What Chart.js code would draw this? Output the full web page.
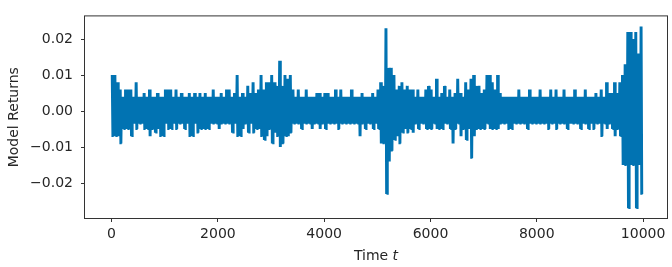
<!DOCTYPE html>
<html>
<head>
<meta charset="utf-8">
<script src="https://cdn.jsdelivr.net/npm/chart.js@4/dist/chart.umd.min.js"></script>
<style>
  html, body { margin: 0; padding: 0; background: #fff; }
</style>
</head>
<body>
<canvas id="returnsChart" width="672" height="267"></canvas>
<script>
// envelope of the return series, read per 50-step bin (values in 1e-3)
const binWidth = 50;
const upper = [
  10, 10, 8, 6, 4, 6, 6, 6, 4, 8,
  4, 4, 5, 4, 6, 4, 4, 5, 4, 4,
  6, 6, 6, 4, 6, 4, 5, 4, 4, 5,
  4, 5, 4, 5, 4, 5, 4, 4, 6, 4,
  4, 5, 4, 6, 6, 4, 5, 10, 4, 5,
  4, 7, 5, 8, 5, 6, 10, 6, 8, 8,
  10, 8, 7, 14, 7, 10, 9, 10, 6, 4,
  6, 4, 4, 6, 4, 4, 4, 5, 5, 4,
  5, 5, 4, 4, 6, 4, 6, 4, 4, 4,
  6, 4, 4, 4, 5, 4, 4, 4, 5, 4,
  6, 8, 7, 23, 12, 12, 10, 6, 7, 8,
  6, 7, 6, 6, 4, 6, 4, 4, 6, 7,
  6, 4, 9, 4, 5, 7, 4, 6, 4, 5,
  9, 5, 4, 8, 6, 9, 10, 7, 7, 5,
  6, 10, 10, 8, 6, 10, 5, 4, 4, 4,
  4, 4, 4, 6, 4, 4, 4, 6, 4, 4,
  4, 6, 4, 4, 4, 6, 4, 6, 4, 4,
  6, 4, 4, 4, 6, 4, 4, 4, 6, 4,
  4, 4, 5, 4, 6, 4, 8, 5, 5, 8,
  5, 8, 10, 13, 22, 22, 20, 22, 16, 23.5
];
const lower = [
  -7, -7, -7, -9, -5, -5, -5, -7, -3.5, -5,
  -3.5, -3.5, -5, -5, -7, -5, -6, -5, -7, -7,
  -3.5, -5, -5, -3.5, -5, -3.5, -3.5, -5, -3.5, -7,
  -7, -3.5, -6, -5, -5, -5, -5, -3.5, -3.5, -3.5,
  -5, -3.5, -3.5, -3.5, -3.5, -6, -3.5, -7, -7, -5,
  -3.5, -6, -3.5, -6, -5, -5, -7, -8, -7, -5,
  -9, -6, -7, -10, -9, -7, -7, -6, -3.5, -3.5,
  -3.5, -5, -3.5, -3.5, -3.5, -5, -3.5, -3.5, -5, -3.5,
  -5, -3.5, -3.5, -3.5, -3.5, -5, -3.5, -3.5, -3.5, -3.5,
  -3.5, -3.5, -3.5, -7, -3.5, -5, -3.5, -3.5, -5, -3.5,
  -5, -9, -9, -23, -14, -11, -8, -7, -9, -6,
  -5, -6, -5, -6, -3.5, -5, -3.5, -3.5, -5, -5,
  -5, -3.5, -5, -5, -5, -3.5, -3.5, -5, -9, -5,
  -3.5, -7, -5, -8, -5, -13, -7, -5, -5, -5,
  -5, -3.5, -5, -5, -5, -5, -3.5, -3.5, -3.5, -5,
  -5, -3.5, -3.5, -3.5, -3.5, -3.5, -5, -3.5, -3.5, -3.5,
  -3.5, -3.5, -3.5, -3.5, -5, -3.5, -3.5, -5, -3.5, -3.5,
  -3.5, -5, -3.5, -3.5, -3.5, -3.5, -5, -3.5, -3.5, -5,
  -3.5, -5, -3.5, -3.5, -7, -3.5, -5, -3.5, -5, -7,
  -5, -7, -15, -15, -27, -15, -15, -27, -15, -23
];

const xTicks = [0, 2000, 4000, 6000, 8000, 10000];
const yTicks = [-0.02, -0.01, 0.0, 0.01, 0.02];
const xRange = [-500, 10450];
const yRange = [-0.0297, 0.0263];

const lineColor = "#0173b2";
const textColor = "#262626";
const spineColor = "#333333";
const fontFamily = "'DejaVu Sans', sans-serif";

// the series swings between the bin max and min several times per bin
const swingsPerBin = 2;
const points = [];
upper.forEach((hi, i) => {
  for (let k = 0; k < swingsPerBin; k++) {
    const t0 = i * binWidth + (k * binWidth) / swingsPerBin;
    points.push({ x: t0, y: hi / 1000 });
    points.push({ x: t0 + binWidth / swingsPerBin / 2, y: lower[i] / 1000 });
  }
});

const framePlugin = {
  id: "frame",
  afterDraw(chart) {
    const { ctx, chartArea: a } = chart;
    ctx.save();
    ctx.strokeStyle = spineColor;
    ctx.lineWidth = 1;
    ctx.strokeRect(a.left - 0.5, a.top - 0.5, a.right - a.left + 1, a.bottom - a.top + 1);

    // x axis title: "Time" + italic t
    const cx = (a.left + a.right) / 2;
    const cy = 256;
    ctx.fillStyle = textColor;
    ctx.textBaseline = "middle";
    ctx.font = "14px " + fontFamily;
    const w1 = ctx.measureText("Time ").width;
    ctx.font = "italic 14px " + fontFamily;
    const w2 = ctx.measureText("t").width;
    const x0 = cx - (w1 + w2) / 2;
    ctx.font = "14px " + fontFamily;
    ctx.fillText("Time ", x0, cy);
    ctx.font = "italic 14px " + fontFamily;
    ctx.fillText("t", x0 + w1, cy);
    ctx.restore();
  }
};

new Chart(document.getElementById("returnsChart"), {
  type: "line",
  data: {
    datasets: [{
      data: points,
      borderColor: lineColor,
      borderWidth: 1.6,
      pointRadius: 0,
      tension: 0,
      fill: false,
    }]
  },
  options: {
    responsive: false,
    animation: false,
    devicePixelRatio: 1,
    layout: { padding: { left: 0, right: 5, top: 8, bottom: 0 } },
    plugins: { legend: { display: false }, tooltip: { enabled: false } },
    scales: {
      x: {
        type: "linear",
        min: xRange[0],
        max: xRange[1],
        afterBuildTicks: (s) => { s.ticks = xTicks.map(v => ({ value: v })); },
        afterFit: (s) => { s.height = 49; },
        border: { display: false },
        grid: { drawOnChartArea: false, drawTicks: true, tickLength: 4, tickColor: spineColor },
        ticks: {
          color: textColor,
          padding: 4,
          maxRotation: 0,
          font: { family: fontFamily, size: 14 },
          callback: (v) => String(v),
        },
      },
      y: {
        type: "linear",
        min: yRange[0],
        max: yRange[1],
        afterBuildTicks: (s) => { s.ticks = yTicks.map(v => ({ value: v })); },
        afterFit: (s) => { s.width = 85; },
        border: { display: false },
        grid: { drawOnChartArea: false, drawTicks: true, tickLength: 4, tickColor: spineColor },
        ticks: {
          color: textColor,
          padding: 8,
          font: { family: fontFamily, size: 14 },
          callback: (v) => v.toFixed(2).replace("-", "\u2212"),
        },
        title: {
          display: true,
          text: "Model Returns",
          color: textColor,
          padding: { top: 6, bottom: 0 },
          font: { family: fontFamily, size: 14 },
        },
      },
    },
  },
  plugins: [framePlugin],
});
</script>
</body>
</html>
